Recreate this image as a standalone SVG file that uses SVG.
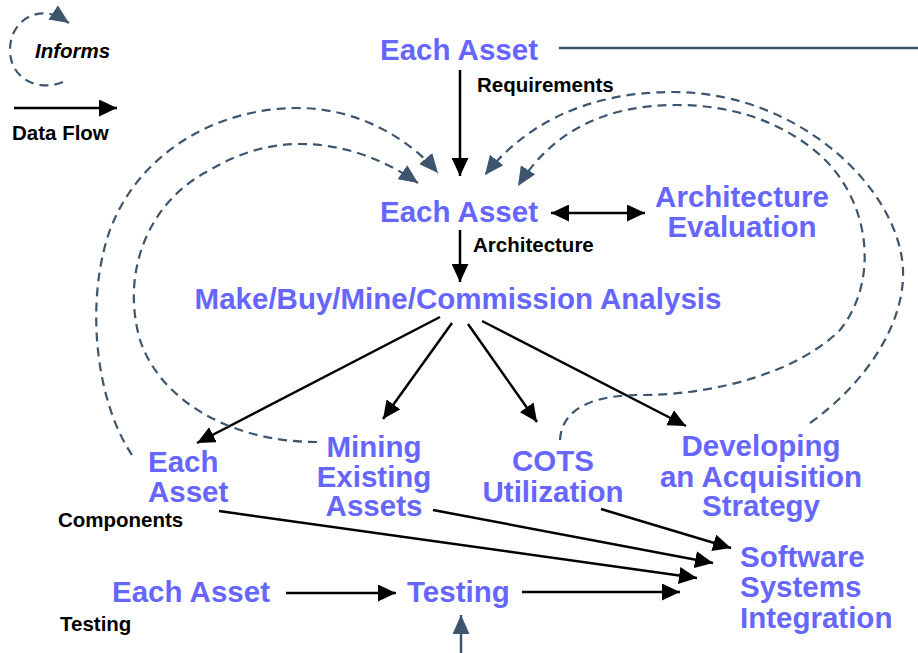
<svg xmlns="http://www.w3.org/2000/svg" width="918" height="653" viewBox="0 0 918 653">
<defs>
<marker id="ab" markerUnits="userSpaceOnUse" markerWidth="18" markerHeight="17" refX="18" refY="8.5" orient="auto-start-reverse"><path d="M0,0 L18,8.5 L0,17 z" fill="#000"/></marker>
<marker id="as" markerUnits="userSpaceOnUse" markerWidth="19" markerHeight="17" refX="19" refY="8.5" orient="auto"><path d="M0,0 L19,8.5 L0,17 z" fill="#3d566e"/></marker>
</defs>
<style>
.b{font-family:"Liberation Sans",Arial,sans-serif;font-weight:bold;font-size:29.5px;fill:#6666ff}
.k{font-family:"Liberation Sans",Arial,sans-serif;font-weight:bold;font-size:20.5px;fill:#000}
.m{text-anchor:middle}
.f{fill:none;stroke:#000;stroke-width:2.5;marker-end:url(#ab)}
.d{fill:none;stroke:#3d566e;stroke-width:2.2;stroke-dasharray:9 6;marker-end:url(#as)}
</style>
<rect width="918" height="653" fill="#fff"/>
<g id="legend">
<path class="d" d="M63,82 C40,92 10,80 10,50 C10,25 30,10 50,14 C57,16 63,19 69,23"/>
<text class="k" x="35" y="58" font-style="italic">Informs</text>
<line x1="14" y1="108" x2="117" y2="108" stroke="#000" stroke-width="2.5" marker-end="url(#ab)"/>
<text class="k" x="12" y="140">Data Flow</text>
</g>
<g id="connectors">
<line x1="559" y1="48" x2="918" y2="48" stroke="#3d566e" stroke-width="2.5"/>
<line class="f" x1="460" y1="70" x2="460" y2="176"/>
<line class="f" x1="460" y1="230" x2="460" y2="282"/>
<line class="f" x1="551" y1="213" x2="645" y2="213" marker-start="url(#ab)"/>
<line class="f" x1="440" y1="317" x2="197" y2="443"/>
<line class="f" x1="452" y1="323" x2="383" y2="419"/>
<line class="f" x1="468" y1="324" x2="537" y2="422"/>
<line class="f" x1="482" y1="321" x2="686" y2="426"/>
<line class="f" x1="219" y1="511" x2="697" y2="578"/>
<line class="f" x1="433" y1="510" x2="713" y2="563"/>
<line class="f" x1="601" y1="509" x2="731" y2="548"/>
<line class="f" x1="286" y1="593" x2="396" y2="593"/>
<line class="f" x1="522" y1="592" x2="680" y2="592"/>
<line x1="461" y1="653" x2="461" y2="615" stroke="#3d566e" stroke-width="2.5" marker-end="url(#as)"/>
<path class="d" d="M132,455 C95,400 85,300 110,230 C140,150 220,108 297,108 C360,108 410,140 438,173"/>
<path class="d" d="M317,442 C230,442 160,400 140,340 C120,270 150,200 210,170 C240,152 270,144 300,144 C345,144 385,160 418,183"/>
<path class="d" d="M810,423 C870,380 905,320 903,270 C900,190 800,92 673,92 C580,92 520,130 485,175"/>
<path class="d" d="M560,440 C562,405 600,395 640,395 C720,395 800,370 840,330 C880,280 870,200 820,155 C780,120 730,105 677,105 C600,105 550,135 518,186"/>
</g>
<g id="req"><text class="b" x="380" y="60">Each Asset</text><text class="k" x="477" y="92">Requirements</text></g>
<g id="arch"><text class="b" x="380" y="222">Each Asset</text><text class="k" x="473" y="252">Architecture</text></g>
<g id="archeval"><text class="b m" x="742" y="207">Architecture</text><text class="b m" x="742" y="237">Evaluation</text></g>
<g id="mbmc"><text class="b m" x="458" y="309">Make/Buy/Mine/Commission Analysis</text></g>
<g id="comp"><text class="b" x="148" y="472">Each</text><text class="b" x="148" y="502">Asset</text><text class="k" x="58" y="527">Components</text></g>
<g id="mining"><text class="b m" x="374" y="457">Mining</text><text class="b m" x="374" y="487">Existing</text><text class="b m" x="374" y="516">Assets</text></g>
<g id="cots"><text class="b m" x="553" y="471">COTS</text><text class="b m" x="553" y="502">Utilization</text></g>
<g id="acq"><text class="b m" x="761" y="456">Developing</text><text class="b m" x="761" y="487">an Acquisition</text><text class="b m" x="761" y="516">Strategy</text></g>
<g id="ssi"><text class="b" x="740" y="567">Software</text><text class="b" x="740" y="597">Systems</text><text class="b" x="740" y="628">Integration</text></g>
<g id="test"><text class="b" x="112" y="602">Each Asset</text><text class="k" x="60" y="631">Testing</text></g>
<g id="testing"><text class="b" x="407" y="602">Testing</text></g>
</svg>
